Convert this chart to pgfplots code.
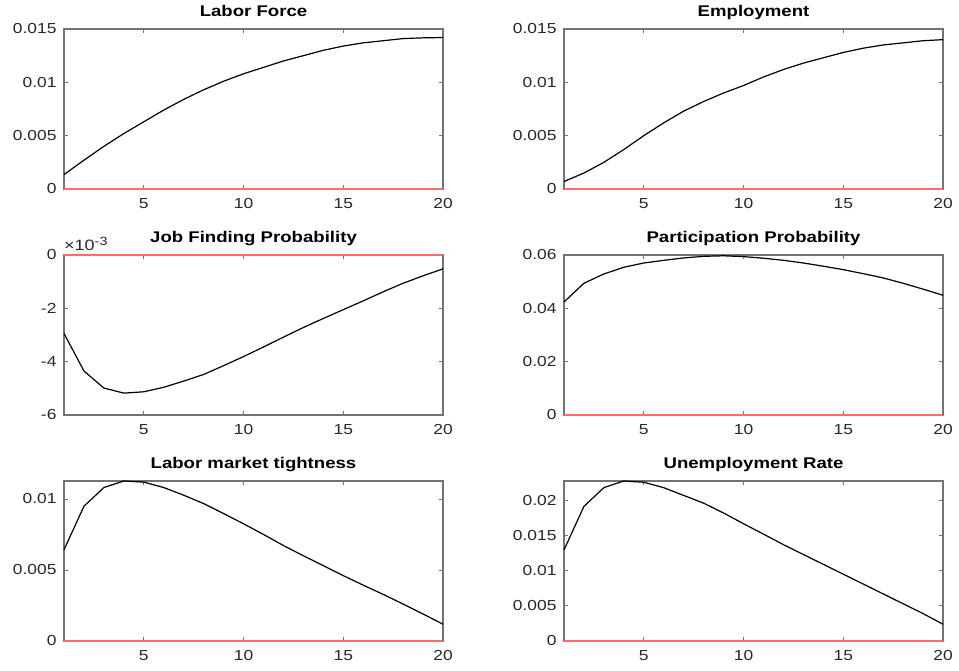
\documentclass[border=0pt]{standalone}
\usepackage{pgfplots}
\pgfplotsset{compat=1.18}
\usepackage{fontspec}
\setmainfont{Liberation Sans}[FakeStretch=1.2]
\definecolor{axgray}{gray}{0.45}
\definecolor{txtgray}{gray}{0.15}
\definecolor{zred}{rgb}{1,0.42,0.42}
\pgfplotsset{
 mat/.style={scale only axis, width=379pt, height=160pt, xmin=1, xmax=20,
   xtick={5,10,15,20}, xticklabels={5,10,15,20},
   scaled x ticks=false, scaled y ticks=false,
   axis line style={axgray, line width=1.2pt},
   major tick style={axgray, line width=0.8pt}, major tick length=4pt,
   tick align=inside, tick pos=both,
   ticklabel style={font=\fontsize{14.5}{14.5}\selectfont, text=txtgray},
   xticklabel style={yshift=-6pt}, yticklabel style={xshift=-4pt},
   title style={at={(0.5,1)}, anchor=base, yshift=6pt, inner sep=0pt,
     font=\fontsize{15.5}{15.5}\selectfont\bfseries, text=black},
   clip=false, anchor=south west},
 curve/.style={black, line width=1.2pt, no marks},
 zero/.style={zred, line width=1.5pt, no marks},
}
\begin{document}
\begin{tikzpicture}
\useasboundingbox (0,0) rectangle (959pt,671pt);
% Labor Force
\begin{axis}[mat, at={(64pt,482pt)}, title={Labor Force}, ymin=0, ymax=0.015,
  ytick={0,0.005,0.01,0.015}, yticklabels={0,0.005,0.01,0.015}]
\addplot[curve] coordinates {(1,0.00135)(2,0.0027)(3,0.0040)(4,0.0052)(5,0.0063)(6,0.0074)(7,0.0084)(8,0.0093)(9,0.0101)(10,0.0108)(11,0.0114)(12,0.0120)(13,0.0125)(14,0.0130)(15,0.0134)(16,0.0137)(17,0.0139)(18,0.0141)(19,0.01417)(20,0.0142)};
\addplot[zero] coordinates {(1,0)(20,0)};
\end{axis}
% Employment
\begin{axis}[mat, at={(564pt,482pt)}, title={Employment}, ymin=0, ymax=0.015,
  ytick={0,0.005,0.01,0.015}, yticklabels={0,0.005,0.01,0.015}]
\addplot[curve] coordinates {(1,0.0007)(2,0.0015)(3,0.0025)(4,0.0037)(5,0.0050)(6,0.0062)(7,0.0073)(8,0.0082)(9,0.0090)(10,0.0097)(11,0.0105)(12,0.0112)(13,0.0118)(14,0.0123)(15,0.0128)(16,0.0132)(17,0.0135)(18,0.0137)(19,0.0139)(20,0.0140)};
\addplot[zero] coordinates {(1,0)(20,0)};
\end{axis}
% Job Finding Probability (x 10^-3)
\begin{axis}[mat, at={(64pt,256pt)}, title={Job Finding Probability}, ymin=-6, ymax=0,
  ytick={-6,-4,-2,0}, yticklabels={-6,-4,-2,0}]
\addplot[curve] coordinates {(1,-2.94)(2,-4.35)(3,-4.99)(4,-5.18)(5,-5.13)(6,-4.96)(7,-4.73)(8,-4.48)(9,-4.15)(10,-3.81)(11,-3.45)(12,-3.08)(13,-2.72)(14,-2.38)(15,-2.05)(16,-1.72)(17,-1.38)(18,-1.06)(19,-0.78)(20,-0.52)};
\addplot[zero] coordinates {(1,0)(20,0)};
\node[anchor=base west, inner sep=0pt, yshift=4pt, text=txtgray, font=\fontsize{15}{15}\selectfont] at (rel axis cs:0,1) {×10\raisebox{5pt}{\fontsize{12}{12}\selectfont -3}};
\end{axis}
% Participation Probability
\begin{axis}[mat, at={(564pt,256pt)}, title={Participation Probability}, ymin=0, ymax=0.06,
  ytick={0,0.02,0.04,0.06}, yticklabels={0,0.02,0.04,0.06}]
\addplot[curve] coordinates {(1,0.0424)(2,0.0494)(3,0.0529)(4,0.0554)(5,0.0570)(6,0.0580)(7,0.0589)(8,0.0595)(9,0.0597)(10,0.0594)(11,0.0588)(12,0.0580)(13,0.0570)(14,0.0558)(15,0.0545)(16,0.0530)(17,0.0514)(18,0.0494)(19,0.0472)(20,0.0449)};
\addplot[zero] coordinates {(1,0)(20,0)};
\end{axis}
% Labor market tightness
\begin{axis}[mat, at={(64pt,30pt)}, title={Labor market tightness}, ymin=0, ymax=0.01126,
  ytick={0,0.005,0.01}, yticklabels={0,0.005,0.01}]
\addplot[curve] coordinates {(1,0.00642)(2,0.00948)(3,0.0108)(4,0.01126)(5,0.01118)(6,0.0108)(7,0.01026)(8,0.00967)(9,0.00897)(10,0.00825)(11,0.00750)(12,0.00672)(13,0.00600)(14,0.00530)(15,0.00460)(16,0.00393)(17,0.00328)(18,0.00260)(19,0.00190)(20,0.00118)};
\addplot[zero] coordinates {(1,0)(20,0)};
\end{axis}
% Unemployment Rate
\begin{axis}[mat, at={(564pt,30pt)}, title={Unemployment Rate}, ymin=0, ymax=0.02275,
  ytick={0,0.005,0.01,0.015,0.02}, yticklabels={0,0.005,0.01,0.015,0.02}]
\addplot[curve] coordinates {(1,0.01295)(2,0.01914)(3,0.02181)(4,0.02275)(5,0.02257)(6,0.0218)(7,0.0207)(8,0.0196)(9,0.0182)(10,0.01667)(11,0.0152)(12,0.0137)(13,0.0123)(14,0.0109)(15,0.00950)(16,0.0081)(17,0.0067)(18,0.0053)(19,0.0039)(20,0.00238)};
\addplot[zero] coordinates {(1,0)(20,0)};
\end{axis}
\end{tikzpicture}
\end{document}
